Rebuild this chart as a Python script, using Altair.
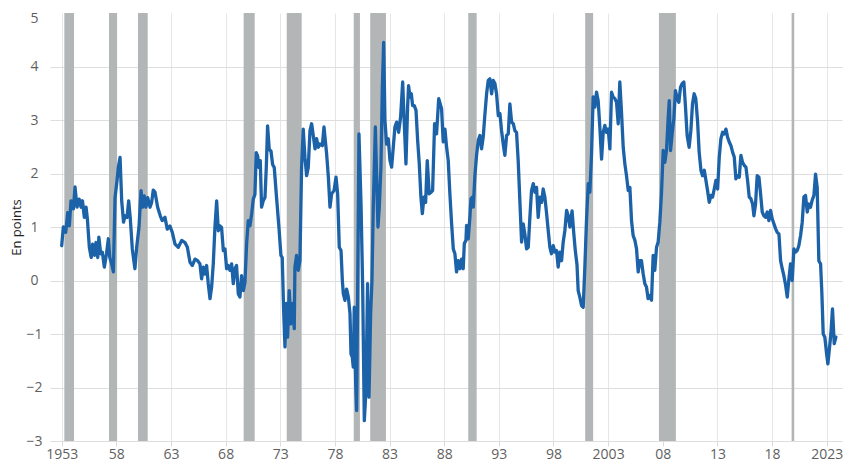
import altair as alt
import pandas as pd

# Spread series (decimal year, value in points)
years = [
    1953.0, 1953.15, 1953.37, 1953.55, 1953.7, 1953.85, 1954.07, 1954.22, 1954.4, 1954.6,
    1954.77, 1954.9, 1955.07, 1955.23, 1955.35, 1955.53, 1955.7, 1955.83, 1956.0, 1956.14,
    1956.3, 1956.4, 1956.57, 1956.72, 1956.9, 1957.1, 1957.27, 1957.4, 1957.57, 1957.73,
    1957.88, 1958.06, 1958.18, 1958.34, 1958.49, 1958.66, 1958.8, 1958.98, 1959.13, 1959.28,
    1959.46, 1959.7, 1959.86, 1960.07, 1960.26, 1960.4, 1960.56, 1960.7, 1960.87, 1961.08,
    1961.23, 1961.38, 1961.54, 1961.78, 1962.02, 1962.2, 1962.45, 1962.66, 1962.9, 1963.12,
    1963.37, 1963.67, 1963.98, 1964.28, 1964.5,
    1964.74, 1964.95, 1965.2, 1965.44, 1965.65, 1965.8, 1965.96, 1966.11, 1966.26, 1966.41,
    1966.57, 1966.72, 1966.87, 1967.02, 1967.18, 1967.33, 1967.48, 1967.63, 1967.79, 1967.94,
    1968.09, 1968.24, 1968.4, 1968.55, 1968.7, 1968.85, 1969.0, 1969.16, 1969.31, 1969.46,
    1969.62, 1969.77, 1969.92, 1970.07, 1970.22, 1970.38, 1970.53, 1970.68, 1970.8, 1970.93,
    1971.05, 1971.17, 1971.29, 1971.44, 1971.6, 1971.72, 1971.84, 1971.99, 1972.15, 1972.3,
    1972.45, 1972.66, 1972.88, 1973.06, 1973.18, 1973.3, 1973.43, 1973.55, 1973.67, 1973.82,
    1973.97, 1974.13, 1974.28, 1974.34, 1974.49, 1974.65, 1974.8, 1974.95, 1975.1, 1975.26,
    1975.41, 1975.56,
    1975.72, 1975.87, 1976.02, 1976.18, 1976.33, 1976.48, 1976.63, 1976.85, 1977.0, 1977.24,
    1977.4, 1977.55, 1977.7, 1977.92, 1978.1, 1978.25, 1978.4, 1978.56, 1978.68, 1978.77,
    1978.92, 1979.07, 1979.23, 1979.38, 1979.47, 1979.59, 1979.68, 1979.77, 1979.9, 1979.99,
    1980.2, 1980.39, 1980.54, 1980.69, 1980.84, 1980.99, 1981.12, 1981.27, 1981.39, 1981.51,
    1981.7, 1981.82, 1981.94, 1982.06, 1982.21, 1982.34, 1982.46, 1982.58, 1982.73, 1982.88,
    1983.04, 1983.19, 1983.34, 1983.49, 1983.65, 1983.83, 1984.01, 1984.2, 1984.35, 1984.5,
    1984.65, 1984.74, 1984.87, 1984.99, 1985.11, 1985.26, 1985.42, 1985.57, 1985.72, 1985.87,
    1986.0, 1986.15, 1986.3, 1986.45, 1986.63, 1986.79, 1986.94, 1987.12, 1987.3, 1987.5,
    1987.76, 1987.91, 1988.07, 1988.22, 1988.37, 1988.52, 1988.68, 1988.83, 1988.98, 1989.13,
    1989.29, 1989.44, 1989.59, 1989.74, 1989.84, 1989.99, 1990.05, 1990.2, 1990.35, 1990.45,
    1990.6, 1990.66, 1990.81, 1990.96, 1991.12, 1991.27, 1991.42, 1991.57, 1991.73, 1991.88,
    1992.03, 1992.18, 1992.34, 1992.49, 1992.64, 1992.79, 1992.95, 1993.1, 1993.25, 1993.4,
    1993.55, 1993.71, 1993.86, 1994.01, 1994.17, 1994.32, 1994.47, 1994.62, 1994.77, 1994.93,
    1995.08, 1995.23, 1995.38, 1995.54, 1995.69, 1995.84, 1995.99, 1996.15, 1996.3, 1996.45,
    1996.6, 1996.76, 1996.91, 1997.06, 1997.21, 1997.37, 1997.52, 1997.67, 1997.82, 1997.98,
    1998.13, 1998.28, 1998.43, 1998.59, 1998.74, 1998.89, 1999.04, 1999.2, 1999.35,
    1999.5, 1999.7, 1999.85, 2000.0, 2000.15,
    2000.26, 2000.41, 2000.57, 2000.72, 2000.87, 2001.02, 2001.18, 2001.33, 2001.48, 2001.63,
    2001.79, 2001.94, 2002.09, 2002.24, 2002.4, 2002.55, 2002.7, 2002.85, 2003.01, 2003.16,
    2003.31, 2003.46, 2003.62, 2003.77, 2003.92, 2004.07, 2004.23, 2004.38, 2004.53, 2004.68,
    2004.84, 2004.99, 2005.14, 2005.29, 2005.45, 2005.6, 2005.75, 2005.9, 2006.05, 2006.21,
    2006.36, 2006.51, 2006.66, 2006.82, 2006.97, 2007.12, 2007.27, 2007.43, 2007.58, 2007.73,
    2007.88, 2008.04, 2008.19, 2008.34, 2008.49, 2008.59, 2008.71, 2008.86, 2009.01, 2009.16,
    2009.32, 2009.47, 2009.62, 2009.77, 2009.93, 2010.08, 2010.23, 2010.41, 2010.57, 2010.72,
    2010.87, 2011.02, 2011.18, 2011.33,
    2011.5, 2011.64, 2011.8, 2011.95, 2012.1, 2012.25, 2012.41, 2012.56, 2012.71, 2012.86,
    2013.02, 2013.17, 2013.32, 2013.47, 2013.63, 2013.78, 2013.93, 2014.08, 2014.24, 2014.39,
    2014.54, 2014.69, 2014.84, 2015.0, 2015.15, 2015.3, 2015.46, 2015.61, 2015.76, 2015.91,
    2016.06, 2016.22, 2016.34, 2016.49, 2016.64, 2016.8, 2016.95, 2017.1, 2017.25, 2017.41,
    2017.56, 2017.71, 2017.86, 2018.02, 2018.17, 2018.32, 2018.47, 2018.63, 2018.78, 2018.93,
    2019.08, 2019.24, 2019.39, 2019.54, 2019.69, 2019.84, 2020.0, 2020.15, 2020.3, 2020.45,
    2020.61, 2020.76, 2020.91, 2021.06, 2021.22, 2021.37, 2021.52, 2021.67, 2021.83, 2021.98,
    2022.13, 2022.28, 2022.44, 2022.56, 2022.68, 2022.83, 2022.99, 2023.11, 2023.23, 2023.38,
    2023.53, 2023.69, 2023.84,
]
values = [
    0.65, 1.0, 0.9, 1.27, 1.02, 1.49, 1.34, 1.75, 1.37, 1.52,
    1.37, 1.49, 1.18, 1.37, 1.15, 0.62, 0.43, 0.68, 0.47, 0.71,
    0.43, 0.81, 0.5, 0.53, 0.25, 0.5, 0.78, 0.43, 0.31, 0.16,
    1.55, 1.86, 2.11, 2.3, 1.49, 1.09, 1.21, 1.18, 1.49, 1.15,
    0.59, 0.22, 0.62, 0.99, 1.68, 1.37, 1.58, 1.37, 1.55, 1.37,
    1.46, 1.69, 1.65, 1.37, 1.21, 1.12, 1.18, 0.96, 1.02, 0.9,
    0.68, 0.62, 0.75, 0.71, 0.62,
    0.34, 0.28, 0.4, 0.37, 0.31, 0.03, 0.25, 0.12, 0.28, -0.06,
    -0.34, -0.12, 0.31, 0.99, 1.49, 0.93, 1.02, 0.99, 0.56, 0.59,
    0.22, 0.28, 0.19, 0.31, -0.06, 0.22, 0.28, -0.25, -0.31, 0.09,
    -0.19, -0.03, 0.68, 1.12, 1.02, 1.24, 1.52, 1.61, 2.39, 2.33,
    2.11, 2.24, 1.37, 1.49, 1.55, 2.11, 2.89, 2.45, 2.42, 2.17,
    2.11, 1.55, 0.99, 0.47, 0.43, -0.5, -1.24, -0.43, -1.06, -0.19,
    -0.81, -0.43, -0.9, 0.25, 0.47, 0.19, 0.37, 2.11, 2.83, 2.3,
    1.96, 2.11,
    2.8, 2.93, 2.71, 2.46, 2.65, 2.49, 2.55, 2.52, 2.87, 2.37,
    1.93, 1.37, 1.62, 1.68, 1.93, 1.62, 0.62, 0.56, 0.0, -0.25,
    -0.37, -0.16, -0.31, -0.62, -1.37, -1.43, -1.62, -0.5, -1.93, -2.43,
    2.74, 1.43, -0.12, -2.62, -2.06, -0.06, -2.18, -0.62, 0.0, 1.37,
    2.87, 1.93, 1.0, 1.37, 2.12, 3.61, 4.45, 2.99, 2.55, 2.65,
    2.24, 2.12, 2.49, 2.87, 2.96, 2.77, 3.05, 3.71, 2.93, 2.18,
    3.24, 3.64, 3.43, 3.49, 3.27, 3.27, 3.18, 2.62, 2.18, 1.56,
    1.25, 1.56, 1.46, 2.24, 1.62, 1.65, 1.68, 2.93, 2.74, 3.4,
    3.21, 2.59, 2.83, 2.49, 2.24, 1.62, 1.06, 0.59, 0.5, 0.16,
    0.37, 0.22, 0.4, 0.22, 0.69, 0.75, 1.03, 0.78, 1.18, 1.53,
    1.56, 1.37, 1.96, 2.34, 2.62, 2.71, 2.46, 2.68, 3.12, 3.49,
    3.74, 3.77, 3.49, 3.74, 3.68, 3.49, 3.08, 3.12, 2.8, 2.55,
    2.34, 2.71, 2.74, 3.3, 2.96, 2.93, 2.8, 2.77, 2.24, 1.46,
    0.72, 1.06, 0.87, 0.59, 0.62, 1.18, 1.68, 1.81, 1.65, 1.74,
    1.18, 1.56, 1.46, 1.71, 1.56, 1.25, 0.93, 0.62, 0.5, 0.65,
    0.53, 0.56, 0.25, 0.53, 0.37, 0.72, 0.93, 1.31, 1.21,
    1.0, 1.3, 0.9, 0.55, 0.3,
    -0.19, -0.31, -0.47, -0.5, 0.25, 1.12, 1.81, 1.65, 2.37, 3.43,
    3.24, 3.52, 3.36, 2.87, 2.27, 2.77, 2.9, 2.77, 2.83, 2.46,
    3.52, 3.43, 3.4, 3.33, 2.93, 3.71, 3.12, 2.49, 2.18, 1.96,
    1.68, 1.74, 1.12, 0.84, 0.75, 0.59, 0.16, 0.37, 0.37, 0.12,
    -0.06, -0.12, -0.34, -0.28, -0.37, 0.47, 0.19, 0.62, 0.72, 1.09,
    1.62, 2.43, 2.21, 2.43, 3.02, 3.36, 2.43, 2.74, 3.02, 3.55,
    3.4, 3.33, 3.61, 3.68, 3.71, 3.24, 2.71, 2.49, 2.8, 3.3,
    3.49, 3.4, 2.99, 2.4,
    2.05, 1.96, 2.06, 1.87, 1.68, 1.46, 1.59, 1.56, 1.71, 1.87,
    1.71, 2.31, 2.65, 2.77, 2.74, 2.83, 2.68, 2.59, 2.52, 2.4,
    2.31, 1.9, 1.96, 1.93, 2.34, 2.21, 2.15, 2.12, 1.87, 1.56,
    1.53, 1.43, 1.21, 1.43, 1.96, 1.93, 1.62, 1.28, 1.21, 1.18,
    1.28, 1.12, 1.31, 1.15, 1.06, 0.97, 0.9, 0.87, 0.37, 0.22,
    0.09, -0.09, -0.31, 0.03, 0.31, 0.0, 0.59, 0.53, 0.56, 0.65,
    0.84, 1.09, 1.56, 1.59, 1.28, 1.43, 1.37, 1.5, 1.59, 1.99,
    1.74, 0.37, 0.31, -0.25, -1.0, -1.06, -1.37, -1.56, -1.31, -1.0,
    -0.53, -1.18, -1.06,
]

# Recession periods (decimal years)
rec_start = [1953.24, 1957.33, 1959.98, 1969.65, 1973.59, 1979.72, 1981.23, 1990.2, 2000.9, 2007.65, 2019.79]
rec_end = [1954.13, 1958.07, 1960.87, 1970.66, 1974.96, 1980.29, 1982.67, 1990.97, 2001.63, 2009.2, 2020.03]

tick_years = [1953, 1958, 1963, 1968, 1973, 1978, 1983, 1988, 1993, 1998, 2003, 2008, 2013, 2018, 2023]
y_ticks = [-3, -2, -1, 0, 1, 2, 3, 4, 5]

n = min(len(years), len(values))
line_df = pd.DataFrame({"year": years[:n], "value": values[:n]})
rec_df = pd.DataFrame({"start": rec_start, "end": rec_end, "lo": -3, "hi": 5})

FONT = "Open Sans"
xscale = alt.Scale(domain=[1951.93, 2024.4], nice=False, zero=False)
yscale = alt.Scale(domain=[-3, 5], nice=False, zero=False)

label_expr = ("(datum.value == 1953 || datum.value == 2003 || datum.value == 2023) ? "
              "'' + datum.value : substring('' + datum.value, 2)")

x_axis = alt.Axis(
    values=tick_years, labelExpr=label_expr, title=None, domain=False,
    ticks=True, tickSize=5, tickColor="#dcdcdc", grid=True, gridColor="#e6e6e6",
    labelFont=FONT, labelFontSize=14, labelColor="#5f5f5f", labelPadding=1,
)
y_axis = alt.Axis(
    values=y_ticks, title="En points", domain=False, ticks=False,
    grid=True, gridColor="#dedede",
    gridOpacity={"condition": {"test": "datum.value === 5", "value": 0}, "value": 1},
    labelOffset={"condition": {"test": "datum.value === 5", "value": 5}, "value": 0},
    labelFont=FONT, labelFontSize=14, labelColor="#5f5f5f", labelAlign="center",
    labelPadding=16, titleFont=FONT, titleFontSize=13, titleFontWeight="normal",
    titleColor="#222222", titlePadding=2,
)

bands = alt.Chart(rec_df).mark_rect(color="#b3b6b7").encode(
    x=alt.X("start:Q", scale=xscale, axis=x_axis),
    x2="end:Q",
    y=alt.Y("lo:Q", scale=yscale, axis=y_axis),
    y2="hi:Q",
)

line = alt.Chart(line_df).mark_line(
    color="#1c62a8", strokeWidth=3.3, strokeJoin="round", strokeCap="round"
).encode(
    x=alt.X("year:Q", scale=xscale),
    y=alt.Y("value:Q", scale=yscale),
)

chart = (
    alt.layer(bands, line)
    .properties(
        width=792, height=428,
        autosize=alt.AutoSizeParams(type="none"),
        padding={"left": 42, "top": 5, "right": 4, "bottom": 24},
        background="white",
    )
    .configure_view(stroke=None)
)

chart.save("out.html", embed_options={"renderer": "svg", "actions": False})
